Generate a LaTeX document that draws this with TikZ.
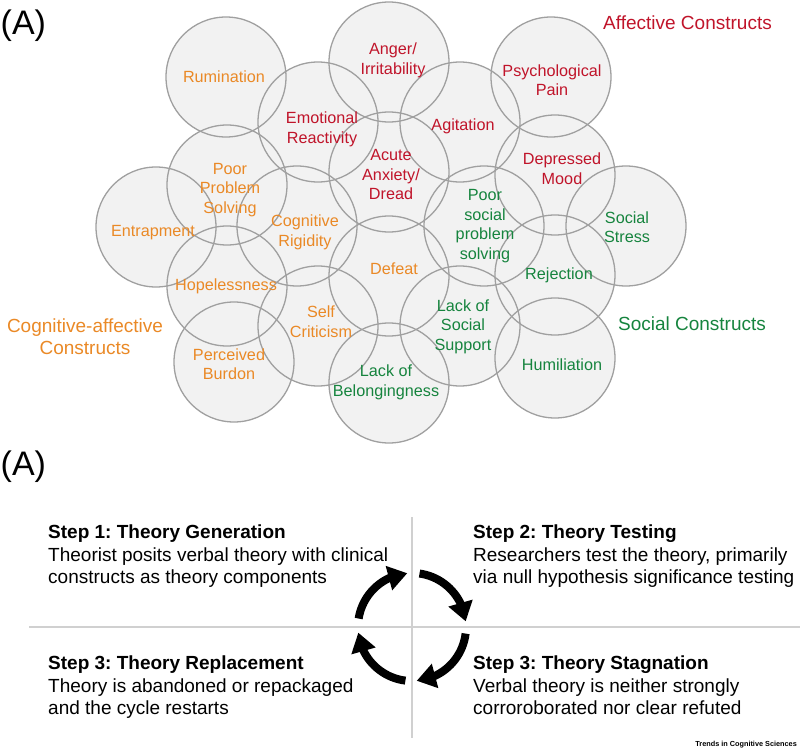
\documentclass[tikz,border=0pt]{standalone}
\usepackage{fontspec}
\setmainfont{Liberation Sans}
\usetikzlibrary{arrows.meta,bending}
\definecolor{corange}{RGB}{234,137,38}
\definecolor{cred}{RGB}{192,20,42}
\definecolor{cgreen}{RGB}{22,132,62}
\definecolor{cfill}{RGB}{242,242,242}
\definecolor{cstroke}{RGB}{160,160,160}
\definecolor{cdiv}{RGB}{208,208,208}
\frenchspacing
\begin{document}
\begin{tikzpicture}[x=1pt,y=-1pt,
  lbl/.style={align=center, inner sep=0pt, font=\fontsize{16.2}{19.5}\selectfont},
  cog/.style={lbl, text=corange},
  aff/.style={lbl, text=cred},
  soc/.style={lbl, text=cgreen},
  cat/.style={align=center, inner sep=0pt, font=\fontsize{19}{22}\selectfont},
  stepbox/.style={align=left, anchor=north west, inner sep=0pt, font=\fontsize{19}{22.3}\selectfont},
  cyc/.style={line width=8pt, -{Triangle[length=19pt,width=24pt,flex]}},
  divider/.style={draw=cdiv, line width=1.5pt},
  bubblefill/.style={fill=cfill},
  bubbleline/.style={draw=cstroke, line width=1.3pt},
  panel/.style={anchor=base west, inner sep=0pt, font=\fontsize{34}{34}\selectfont}
]
\useasboundingbox (0,0) rectangle (800,752);

% circle centres
\foreach \n/\x/\y in {Rum/226/77, Ang/389/62, Psy/551/77, Emo/318/122, Agi/460/122,
  Acu/389/172, Dep/555/175, PPS/227/185, Ent/156/227, CR/297/226, PSP/484/226,
  SS/626/226, Def/389/276, Rej/555/275, Hop/227/286, SC/318/326, LSS/460/326,
  PB/234/362, Hum/555/358, LB/389/383}
  \coordinate (c\n) at (\x,\y);

\foreach \n in {Rum,Ang,Psy,Emo,Agi,Acu,Dep,PPS,Ent,CR,PSP,SS,Def,Rej,Hop,SC,LSS,PB,Hum,LB}
  \fill[bubblefill] (c\n) circle (60pt);
\foreach \n in {Rum,Ang,Psy,Emo,Agi,Acu,Dep,PPS,Ent,CR,PSP,SS,Def,Rej,Hop,SC,LSS,PB,Hum,LB}
  \draw[bubbleline] (c\n) circle (60pt);

% labels
\node[cog] (tRum) at (224,77) {Rumination};
\node[aff] (tAng) at (393,60.2) {Anger/\\Irritability};
\node[aff] (tPsy) at (552,80) {Psychological\\Pain};
\node[aff] (tEmo) at (322,129.2) {Emotional\\Reactivity};
\node[aff] (tAgi) at (463,126.7) {Agitation};
\node[aff] (tAcu) at (391,175) {Acute\\Anxiety/\\Dread};
\node[aff] (tDep) at (562,168.5) {Depressed\\Mood};
\node[cog] (tPPS) at (230,189.7) {Poor\\Problem\\Solving};
\node[soc] (tPSP) at (485,226.2) {Poor\\social\\problem\\solving};
\node[soc] (tSS) at (627,227) {Social\\Stress};
\node[cog] (tEnt) at (153,232.7) {Entrapment};
\node[cog] (tCR) at (305,232.2) {Cognitive\\Rigidity};
\node[cog] (tDef) at (394,268.5) {Defeat};
\node[soc] (tRej) at (559,275.7) {Rejection};
\node[cog] (tHop) at (226,286.7) {Hopelessness};
\node[cog] (tSC) at (321,321.5) {Self\\Criticism};
\node[soc] (tLSS) at (463,326.7) {Lack of\\Social\\Support};
\node[cog] (tPB) at (229,364) {Perceived\\Burdon};
\node[soc] (tHum) at (562,365) {Humiliation};
\node[soc] (tLB) at (386,382.2) {Lack of\\Belongingness};

\node[cat, text=cred] (kAff) at (687.5,23) {Affective Constructs};
\node[cat, text=cgreen] (kSoc) at (692,324) {Social Constructs};
\node[cat, text=corange] (kCog) at (85,336.5) {Cognitive-affective\\Constructs};

\node[panel] (pA) at (0.5,35) {(A)};
\node[panel] (pB) at (0.5,475) {(A)};

% cycle panel
\coordinate (hl) at (29,627);
\coordinate (hr) at (800,627);
\coordinate (vt) at (412,517);
\coordinate (vb) at (412,738);
\draw[divider] (hl) -- (hr);
\draw[divider] (vt) -- (vb);

\coordinate (cyc) at (412,627);
\draw[cyc] ([shift={(171:54pt)}]cyc) arc (171:95:54pt);
\draw[cyc] ([shift={(82:54pt)}]cyc) arc (82:6:54pt);
\draw[cyc] ([shift={(-7:54pt)}]cyc) arc (-7:-85:54pt);
\draw[cyc] ([shift={(-97:54pt)}]cyc) arc (-97:-174:54pt);

\node[stepbox] (s1) at (48,525) {\textbf{Step 1: Theory Generation}\\Theorist posits verbal theory with clinical\\constructs as theory components};
\node[stepbox] (s2) at (473,525) {\textbf{Step 2: Theory Testing}\\Researchers test the theory, primarily\\via null hypothesis significance testing};
\node[stepbox] (s3) at (48,656) {\textbf{Step 3: Theory Replacement}\\Theory is abandoned or repackaged\\and the cycle restarts};
\node[stepbox] (s4) at (473,656) {\textbf{Step 3: Theory Stagnation}\\Verbal theory is neither strongly\\corroroborated nor clear refuted};

\node[anchor=base east, inner sep=0pt, font=\bfseries\fontsize{7.3}{8}\selectfont] (tcs) at (797,746) {Trends in Cognitive Sciences};
\end{tikzpicture}
\end{document}
